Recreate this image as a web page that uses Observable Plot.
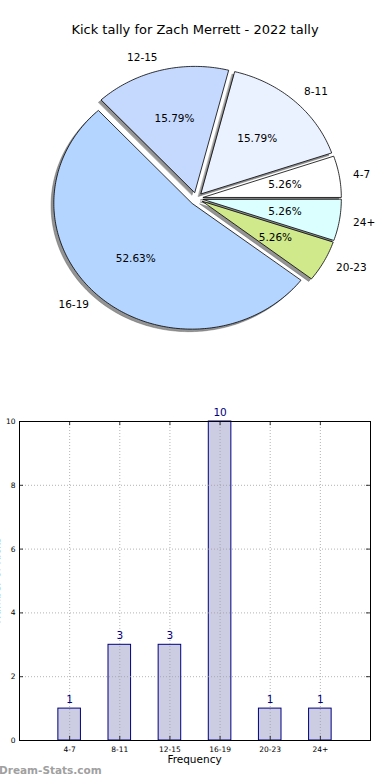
<!DOCTYPE html>
<html><head><meta charset="utf-8">
<script src="https://cdn.jsdelivr.net/npm/d3@7"></script>
<script src="https://cdn.jsdelivr.net/npm/@observablehq/plot@0.6"></script>
<style>
body{margin:0;background:#fff;font-family:"DejaVu Sans",sans-serif;}
#root{position:relative;width:390px;height:780px;overflow:hidden;background:#fff;}
.abs{position:absolute;white-space:nowrap;}
</style></head><body><div id="root"></div>
<script>
const title = "Kick tally for Zach Merrett - 2022 tally";
const sliceLabels = ["4-7","8-11","12-15","16-19","20-23","24+"];
const sliceValues = [1,3,3,10,1,1];
const sliceColors = ["#ffffff","#eaf1ff","#c5d9ff","#b4d5ff","#cfe98b","#dbffff"];
const barCategories = ["4-7","8-11","12-15","16-19","20-23","24+"];
const barValues = [1,3,3,10,1,1];
const yTicks = [0,2,4,6,8,10];
const xLabel = "Frequency";
const yLabel = "Number of Kicks";
const watermark = "Dream-Stats.com";

const root = document.getElementById("root");
function addDiv(text, css){ const d=document.createElement("div"); d.className="abs"; d.textContent=text; Object.assign(d.style, css); root.appendChild(d); return d; }

// ---- Pie ----
const total = d3.sum(sliceValues);
const explode = 0.05;
let acc = 0;
const slices = sliceValues.map((v,i)=>{
  const a0 = acc/total*2*Math.PI; acc += v; const a1 = acc/total*2*Math.PI;
  const mid = (a0+a1)/2;
  const ox = explode*Math.cos(mid), oy = explode*Math.sin(mid);
  const pts = [{x:ox,y:oy}];
  const n = Math.max(2, Math.ceil((a1-a0)/(Math.PI/180)));
  for (let k=0;k<=n;k++){ const a=a0+(a1-a0)*k/n; pts.push({x:ox+Math.cos(a), y:oy+Math.sin(a)}); }
  return {label: sliceLabels[i], value:v, pct: v/total*100, color: sliceColors[i], mid, ox, oy, pts,
    lx: ox+1.1*Math.cos(mid), ly: oy+1.1*Math.sin(mid),
    px: ox+0.6*Math.cos(mid), py: oy+0.6*Math.sin(mid)};
});
const pieMarks = [];
for (const s of slices) pieMarks.push(Plot.line(s.pts.map(p=>({x:p.x-0.02,y:p.y-0.02})), {x:"x",y:"y",fill:"#3c3c3c",fillOpacity:0.55,stroke:"#555",strokeOpacity:0.5,strokeWidth:0.8,curve:"linear-closed"}));
for (const s of slices) pieMarks.push(Plot.line(s.pts, {x:"x",y:"y",fill:s.color,stroke:"black",strokeWidth:0.8,curve:"linear-closed"}));
pieMarks.push(Plot.text(slices.filter(s=>s.lx>0), {x:"lx",y:"ly",text:"label",textAnchor:"start",fontSize:10.5,fill:"black"}));
pieMarks.push(Plot.text(slices.filter(s=>s.lx<=0), {x:"lx",y:"ly",text:"label",textAnchor:"end",fontSize:10.5,fill:"black"}));
pieMarks.push(Plot.text(slices, {x:"px",y:"py",text:d=>d.pct.toFixed(2)+"%",fontSize:10.5,fill:"black"}));
const pie = Plot.plot({width:390,height:320,margin:0,
  x:{domain:[-1,1],range:[58,334],axis:null},
  y:{domain:[-1,1],range:[284,32],axis:null},
  style:{fontFamily:"DejaVu Sans",background:"transparent"},
  marks:pieMarks});
pie.style.position="absolute"; pie.style.left="0px"; pie.style.top="40px";
root.appendChild(pie);

addDiv(title,{left:"0px",top:"22px",width:"390px",textAlign:"center",fontSize:"13px",lineHeight:"16px",color:"#000"});

// ---- Bars ----
const bars = barCategories.map((c,i)=>({c,i,v:barValues[i]}));
const idx = bars.map(d=>d.i);
const grid = {stroke:"#a0a0a0",strokeDasharray:"1,2",strokeWidth:0.8};
const bar = Plot.plot({width:390,height:400,marginTop:41,marginBottom:40,marginLeft:19,marginRight:20,
  x:{domain:[-1,6],axis:null},
  y:{domain:[0,10],axis:null},
  style:{fontFamily:"DejaVu Sans",background:"transparent",color:"black"},
  marks:[
    Plot.rectY(bars,{x1:d=>d.i-0.225,x2:d=>d.i+0.225,y:"v",fill:"#ccccE2",stroke:"#000080",strokeWidth:1}),
    Plot.ruleX(idx,{x:d=>d,...grid}),
    Plot.ruleY(yTicks,{y:d=>d,...grid}),
    Plot.ruleX(idx,{x:d=>d,y1:0,y2:0.13,stroke:"black",strokeWidth:0.8}),
    Plot.ruleX(idx,{x:d=>d,y1:9.87,y2:10,stroke:"black",strokeWidth:0.8}),
    Plot.ruleY(yTicks,{y:d=>d,x1:-1,x2:-0.92,stroke:"black",strokeWidth:0.8}),
    Plot.ruleY(yTicks,{y:d=>d,x1:5.92,x2:6,stroke:"black",strokeWidth:0.8}),
    Plot.frame({stroke:"black",strokeWidth:1}),
    Plot.text(bars,{x:"i",y:"v",text:d=>String(d.v),dy:-9,fill:"#000080",fontSize:10.5}),
    Plot.axisX({ticks:idx,tickFormat:i=>barCategories[i],tickSize:0,tickPadding:6,fontSize:7.5,label:null}),
    Plot.axisY({ticks:yTicks,tickSize:0,tickPadding:4,fontSize:7.5,label:null})
  ]});
bar.style.position="absolute"; bar.style.left="0px"; bar.style.top="380px";
root.appendChild(bar);

addDiv(xLabel,{left:"19px",top:"753px",width:"351px",textAlign:"center",fontSize:"10.5px",lineHeight:"13px"});
addDiv(yLabel,{left:"-54px",top:"574px",width:"100px",textAlign:"center",fontSize:"10.5px",lineHeight:"13px",color:"#000",transform:"rotate(-90deg)"});
addDiv(watermark,{left:"-1px",top:"763px",fontSize:"10.5px",lineHeight:"14px",fontWeight:"bold",color:"#a0a0a0"});
</script></body></html>
